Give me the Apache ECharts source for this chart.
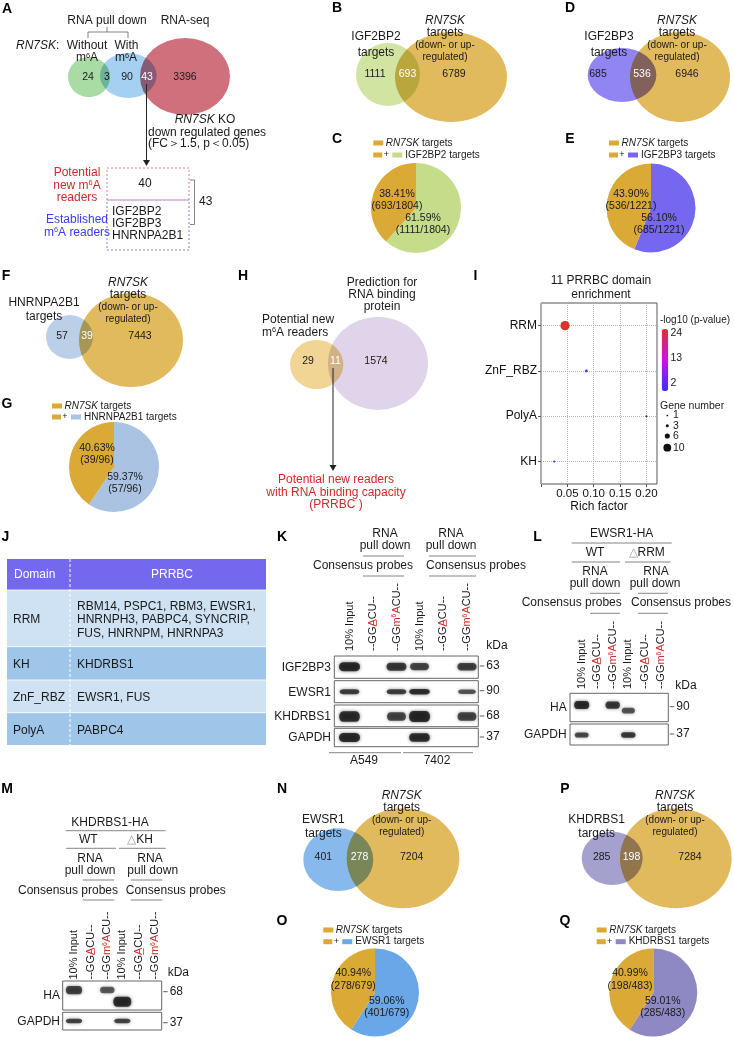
<!DOCTYPE html>
<html>
<head>
<meta charset="utf-8">
<title>RN7SK m6A readers</title>
<script src="https://cdn.jsdelivr.net/npm/echarts@6.0.0/dist/echarts.min.js"></script>
<style>
html,body{margin:0;padding:0;background:#fff;}
#chart{width:734px;height:1037px;}
</style>
</head>
<body>
<div id="chart"></div>
<script>
// ================= DATA =================
const vennA_counts = [24, 3, 90, 43, 3396];        // without-only, without&with, with-only, with&RNA-seq, RNA-seq only
const readersNew = 40;
const readersEstablished = ['IGF2BP2', 'IGF2BP3', 'HNRNPA2B1'];
const readersTotal = 43;

const vennB_counts = [1111, 693, 6789];
const vennD_counts = [685, 536, 6946];
const vennF_counts = [57, 39, 7443];
const vennH_counts = [29, 11, 1574];
const vennN_counts = [401, 278, 7204];
const vennP_counts = [285, 198, 7284];

const pieC_counts = [1111, 693];  const pieC_pct = ['61.59%', '38.41%'];
const pieE_counts = [685, 536];   const pieE_pct = ['56.10%', '43.90%'];
const pieG_counts = [57, 39];     const pieG_pct = ['59.37%', '40.63%'];
const pieO_counts = [401, 278];   const pieO_pct = ['59.06%', '40.94%'];
const pieQ_counts = [285, 198];   const pieQ_pct = ['59.01%', '40.99%'];

const I_domains = ['RRM', 'ZnF_RBZ', 'PolyA', 'KH'];
const I_richFactor = [0.0455, 0.086, 0.2, 0.025];
const I_negLog10P = [24, 2.3, 2.0, 2.0];
const I_geneNumber = [10, 2, 1, 1];
const I_yOrder = ['KH', 'PolyA', 'ZnF_RBZ', 'RRM'];
const I_colorTicks = [24, 13, 2];
const I_sizeTicks = [1, 3, 6, 10];

const J_domains = ['RRM', 'KH', 'ZnF_RBZ', 'PolyA'];
const J_prrbc = [
  ['RBM14, PSPC1, RBM3, EWSR1,', 'HNRNPH3, PABPC4, SYNCRIP,', 'FUS, HNRNPM, HNRNPA3'],
  ['KHDRBS1'],
  ['EWSR1, FUS'],
  ['PABPC4']
];

const probeLanes = ['10% Input', '--GG{ru|A\u0332}CU--', '--GG{r|m}{rs|6}{r|A}CU--'];
const K_lanes = probeLanes.concat(probeLanes);
const K_proteins = ['IGF2BP3', 'EWSR1', 'KHDRBS1', 'GAPDH'];
const K_kDa = ['63', '90', '68', '37'];
const K_bands = [
  [1.0, 0, 0.85, 0.7, 0, 0.75],
  [0.8, 0, 0.8, 0.95, 0, 0.55],
  [0.95, 0, 0.7, 1.0, 0, 0.7],
  [1.0, 0, 0, 0.95, 0, 0]
];
const K_cells = ['A549', '7402'];

const L_lanes = probeLanes.concat(probeLanes);
const L_proteins = ['HA', 'GAPDH'];
const L_kDa = ['90', '37'];
const L_bands = [
  [1.0, 0, 0.85, 0.55, 0, 0],
  [0.7, 0, 0, 0.85, 0, 0]
];

const M_lanes = probeLanes.concat(probeLanes);
const M_proteins = ['HA', 'GAPDH'];
const M_kDa = ['68', '37'];
const M_bands = [
  [0.75, 0, 0.5, 1.0, 0, 0],
  [0.75, 0, 0, 0.75, 0, 0]
];

// ================= STYLE / LAYOUT =================
const FF = "'Liberation Sans', Arial, Helvetica, sans-serif";
const ORANGE = '#dba936';
const RED_T = '#cf2a2a';
const BLUE_T = '#3b3bf0';
const INK = '#1a1a1a';
const BAND_SYMBOL = 'path://M4,0 H16 C21.3,0 21.3,10 16,10 H4 C-1.3,10 -1.3,0 4,0 Z';

const G = [];
function fnt(st, wt, sz) { return st + ' ' + wt + ' ' + sz + 'px ' + FF; }
function rich(size, color, wt) {
  const ss = Math.round(size * 0.62 * 10) / 10;
  return {
    i:  { font: fnt('italic', wt, size), fontStyle: 'italic', fontSize: size, fontFamily: FF, fill: color },
    s:  { font: fnt('normal', wt, ss), fontSize: ss, fontFamily: FF, fill: color, verticalAlign: 'top' },
    r:  { font: fnt('normal', wt, size), fontSize: size, fontFamily: FF, fill: RED_T },
    ru: { font: fnt('normal', wt, size), fontSize: size, fontFamily: FF, fill: RED_T },
    rs: { font: fnt('normal', wt, ss), fontSize: ss, fontFamily: FF, fill: RED_T, verticalAlign: 'top' },
    g:  { font: fnt('normal', wt, size), fontSize: size, fontFamily: FF, fill: '#a0a0a0' }
  };
}
function T(x, y, s, o) {
  o = o || {};
  const size = o.size || 12, color = o.color || INK, align = o.align || 'center';
  const wt = o.bold ? 'bold' : 'normal', st = o.italic ? 'italic' : 'normal';
  G.push({
    type: 'text', x: x, y: y, rotation: o.rot || 0, z: 100, silent: true,
    style: {
      text: String(s), fill: color, font: fnt(st, wt, size),
      fontSize: size, fontFamily: FF, fontWeight: wt, fontStyle: st,
      align: align, textAlign: align, verticalAlign: 'middle', textVerticalAlign: 'middle',
      rich: rich(size, color, wt)
    }
  });
}
function L(x1, y1, x2, y2, o) {
  o = o || {};
  G.push({ type: 'line', z: o.z || 100, silent: true, shape: { x1: x1, y1: y1, x2: x2, y2: y2 },
    style: { stroke: o.color || '#666', lineWidth: o.w || 0.8, lineDash: o.dash || null } });
}
function R(x, y, w, h, o) {
  o = o || {};
  G.push({ type: 'rect', z: o.z || 1, silent: true, shape: { x: x, y: y, width: w, height: h },
    style: { fill: o.fill || 'none', stroke: o.stroke || null, lineWidth: o.w || 0, lineDash: o.dash || null } });
}
function arrowDown(x, y1, y2) {
  L(x, y1, x, y2 - 5, { color: '#222', w: 1 });
  G.push({ type: 'polygon', z: 100, silent: true, shape: { points: [[x - 3.5, y2 - 6], [x + 3.5, y2 - 6], [x, y2]] }, style: { fill: '#222' } });
}

// Venn layout: [cx, cy, w, h, color, multiply]
const VENN = [
  { counts: vennA_counts, white: [3],
    circles: [[89, 77, 42, 40, '#93d38f', 0], [128.3, 75.5, 56.7, 45, '#8ec4ee', 1], [185, 76.5, 90, 77, '#c44c5c', 0]],
    labels: [[88, 77], [107, 77], [127, 77], [147, 77], [185, 77]] },
  { counts: vennB_counts, white: [1],
    circles: [[388, 74.5, 64, 63, '#c5dd8b', 0], [451, 77, 112, 90, ORANGE, 1]],
    labels: [[375, 74], [407.5, 74], [454, 74]] },
  { counts: vennD_counts, white: [1],
    circles: [[622, 75, 68.7, 54, '#7667f0', 0], [680, 77, 100, 90, ORANGE, 1]],
    labels: [[598, 74], [642, 74], [687, 74]] },
  { counts: vennF_counts, white: [1],
    circles: [[69.5, 337, 47, 44, '#aac3e3', 0], [131, 340, 104, 94, ORANGE, 1]],
    labels: [[62, 336], [87, 336], [140, 336]] },
  { counts: vennH_counts, white: [1],
    circles: [[316.7, 364.5, 53.3, 49, '#edca7b', 0], [378, 363.4, 100, 93, '#d7c9e4', 1]],
    labels: [[308, 361], [335.5, 361], [376, 361]] },
  { counts: vennN_counts, white: [1],
    circles: [[338.3, 859.7, 70, 62.7, '#6aa7e8', 0], [403, 858.3, 112.7, 100, ORANGE, 1]],
    labels: [[323.3, 857.3], [359.5, 857.3], [411.7, 857.3]] },
  { counts: vennP_counts, white: [1],
    circles: [[612.2, 858.3, 61, 53.3, '#8f89c3', 0], [675.8, 858.3, 111.7, 100, ORANGE, 1]],
    labels: [[601.7, 857.3], [631.5, 857.3], [690, 857.3]] }
];
const vennBase = [], vennMul = [];
VENN.forEach(v => {
  v.circles.forEach(c => (c[5] ? vennMul : vennBase).push({ value: [c[0], c[1]], symbolSize: [c[2], c[3]], itemStyle: { color: c[4] } }));
  v.counts.forEach((n, i) => T(v.labels[i][0], v.labels[i][1], n, { size: 10.5, color: v.white.indexOf(i) >= 0 ? '#fff' : INK }));
});

// Pies layout
const PIES = [
  { counts: pieC_counts, pct: pieC_pct, color: '#c5dd8b', c: [416, 208], r: 45, lab: [[423, 218], [397, 194]], leg: [373.3, 143, 155], name: 'IGF2BP2' },
  { counts: pieE_counts, pct: pieE_pct, color: '#7667f0', c: [651, 208], r: 44.5, lab: [[659, 218], [631, 194]], leg: [609, 143, 155], name: 'IGF2BP3' },
  { counts: pieG_counts, pct: pieG_pct, color: '#aac3e3', c: [114, 467], r: 45, lab: [[125, 477], [97, 448]], leg: [52, 406, 417], name: 'HNRNPA2B1' },
  { counts: pieO_counts, pct: pieO_pct, color: '#6aa7e8', c: [375, 992.5], r: 44, lab: [[386.7, 1000.7], [353.3, 973.3]], leg: [323.3, 930, 941.7], name: 'EWSR1' },
  { counts: pieQ_counts, pct: pieQ_pct, color: '#8f89c3', c: [653.3, 992.5], r: 44, lab: [[662.7, 1000.7], [630, 973.3]], leg: [596.7, 930, 941.7], name: 'KHDRBS1' }
];
const pieSeries = PIES.map(p => {
  const total = p.counts[0] + p.counts[1];
  p.counts.forEach((n, i) => {
    T(p.lab[i][0], p.lab[i][1], p.pct[i], { size: 10.5 });
    T(p.lab[i][0], p.lab[i][1] + 12.5, '(' + n + '/' + total + ')', { size: 10.5 });
  });
  const x = p.leg[0];
  R(x, p.leg[1] - 2.5, 10, 5, { fill: ORANGE, z: 100 });
  T(x + 12.5, p.leg[1], '{i|RN7SK} targets', { align: 'left', size: 10 });
  R(x, p.leg[2] - 2.5, 9, 5, { fill: ORANGE, z: 100 });
  T(x + 13, p.leg[2], '+', { size: 9 });
  R(x + 19, p.leg[2] - 2.5, 10, 5, { fill: p.color, z: 100 });
  T(x + 32, p.leg[2], p.name + ' targets', { align: 'left', size: 10 });
  return {
    type: 'pie', center: p.c, radius: p.r, startAngle: 90, clockwise: true, silent: true,
    label: { show: false }, labelLine: { show: false }, z: 2,
    itemStyle: { borderWidth: 0 },
    data: [{ value: p.counts[0], itemStyle: { color: p.color } }, { value: p.counts[1], itemStyle: { color: ORANGE } }]
  };
});

// ================= PANEL LETTERS =================
[['A', 7, 9], ['B', 337, 8], ['D', 570, 8], ['C', 337, 139], ['E', 570, 139], ['F', 6, 276], ['G', 7, 404],
 ['H', 243, 276], ['I', 475.5, 276], ['J', 5.5, 537], ['K', 282, 537], ['L', 537.5, 537], ['M', 7, 789],
 ['N', 282, 789], ['O', 282, 921.5], ['P', 565, 789], ['Q', 565, 921.5]]
  .forEach(a => T(a[1], a[2], a[0], { size: 14, bold: true, color: '#000' }));

// ================= PANEL A =================
T(107, 21, 'RNA pull down');
L(107, 27, 107, 32); L(88, 32, 128, 32); L(88, 32, 88, 38); L(128, 32, 128, 38);
T(185, 21, 'RNA-seq');
T(16, 46, '{i|RN7SK}:', { align: 'left' });
T(87, 46, 'Without'); T(87, 58, 'm{s|6}A');
T(126.5, 46, 'With'); T(126, 58, 'm{s|6}A');
T(205, 120, '{i|RN7SK} KO');
T(148, 133, 'down regulated genes', { align: 'left' });
T(148, 144, '(FC\uFF1E1.5, p\uFF1C0.05)', { align: 'left' });
arrowDown(146.5, 84, 166);
R(107, 168, 82, 32, { stroke: '#e88090', w: 1, dash: [2, 2], z: 50 });
R(107, 200, 82, 50, { stroke: '#8080f0', w: 1, dash: [2, 2], z: 50 });
T(145, 183.5, readersNew);
readersEstablished.forEach((s, i) => T(112, 211.5 + i * 12, s, { align: 'left' }));
L(190, 180, 194.5, 180); L(194.5, 180, 194.5, 224.5); L(190, 224.5, 194.5, 224.5);
T(199, 202, readersTotal, { align: 'left' });
T(77, 173, 'Potential', { color: RED_T }); T(77, 185.5, 'new m{s|6}A', { color: RED_T }); T(77, 198, 'readers', { color: RED_T });
T(77, 220, 'Established', { color: BLUE_T }); T(77, 232.5, 'm{s|6}A readers', { color: BLUE_T });

// ================= Venn labels B, D, F, H, N, P =================
function rn7skLabel(x, y0) {
  T(x, y0, '{i|RN7SK}'); T(x, y0 + 12, 'targets');
  T(x, y0 + 24.5, '(down- or up-', { size: 10 }); T(x, y0 + 36.5, 'regulated)', { size: 10 });
}
T(376, 37, 'IGF2BP2'); T(376, 53, 'targets'); rn7skLabel(445, 21);
T(609, 37, 'IGF2BP3'); T(609, 53, 'targets'); rn7skLabel(677, 21);
T(44, 303, 'HNRNPA2B1'); T(44, 317, 'targets'); rn7skLabel(128, 283);
T(323.3, 819.3, 'EWSR1'); T(323.3, 833.3, 'targets'); rn7skLabel(401.7, 795.5);
T(596.7, 819.3, 'KHDRBS1'); T(596.7, 833.3, 'targets'); rn7skLabel(675, 795.5);

// H
T(262, 320, 'Potential new', { align: 'left' }); T(262, 332.5, 'm{s|6}A readers', { align: 'left' });
T(382, 283, 'Prediction for'); T(382, 295, 'RNA binding'); T(382, 307, 'protein');
arrowDown(333, 368, 471);
T(336, 480, 'Potential new readers', { color: RED_T });
T(336, 492.5, 'with RNA binding capacity', { color: RED_T });
T(336, 505, '(PRRBC )', { color: RED_T });

// ================= PANEL I legend texts =================
T(601, 281, '11 PRRBC domain'); T(601, 295, 'enrichment');
T(660, 320, '-log10 (p-value)', { align: 'left', size: 10 });
I_colorTicks.forEach(v => T(670.5, 332.7 + (24 - v) / 22 * 50.6, v, { align: 'left', size: 10.5 }));
T(660, 406, 'Gene number', { align: 'left', size: 10.5 });
const sz = n => 1.2 + 0.8 * n;
I_sizeTicks.forEach((n, i) => {
  const y = [415.5, 425.7, 436, 447.7][i];
  G.push({ type: 'circle', z: 100, silent: true, shape: { cx: 667.3, cy: y, r: sz(n) / 2 * 0.85 }, style: { fill: '#111' } });
  T(673, y, n, { align: 'left', size: 10.5 });
});

// ================= PANEL J table =================
const J_rows = [[590, 646.7], [646.7, 680], [680, 712.7], [712.7, 745]];
R(7, 559, 259, 31, { fill: '#7468ee' });
T(14, 574.5, 'Domain', { align: 'left', color: '#fff' });
T(172, 574.5, 'PRRBC', { color: '#fff' });
J_domains.forEach((d, i) => {
  const y0 = J_rows[i][0], y1 = J_rows[i][1], yc = (y0 + y1) / 2 + 1.5;
  R(7, y0, 259, y1 - y0, { fill: i % 2 ? '#9fc5e8' : '#cfe2f3' });
  L(7, y0, 266, y0, { color: '#ffffff', w: 0.8, z: 5 });
  T(13, yc, d, { align: 'left' });
  const lines = J_prrbc[i];
  lines.forEach((s, k) => T(77, yc + (k - (lines.length - 1) / 2) * 13.5, s, { align: 'left' }));
});
L(70, 559, 70, 745, { color: '#ffffff', w: 1, dash: [3, 2], z: 5 });

// ================= BLOTS =================
const bandData = [];
function blot(lanes, proteins, kda, bands, lay) {
  lanes.forEach((s, i) => T(lay.laneX[i], lay.laneBottom, s, { rot: Math.PI / 2, align: 'left', size: lay.laneFont }));
  T(lay.kdaHdr[0], lay.kdaHdr[1], 'kDa');
  const bx1 = lay.boxX + lay.boxW;
  proteins.forEach((p, r) => {
    const y0 = lay.rows[r][0], y1 = lay.rows[r][1];
    R(lay.boxX, y0, lay.boxW, y1 - y0, { fill: '#fff', stroke: '#555', w: 0.9, z: 1 });
    T(lay.labelX, (y0 + y1) / 2 + 0.5, p, { align: 'right' });
    L(bx1 + 1.5, lay.kdaY[r], bx1 + 6, lay.kdaY[r], { color: '#333' });
    T(bx1 + 8, lay.kdaY[r], kda[r], { align: 'left' });
    bands[r].forEach((s, i) => {
      if (s <= 0) return;
      const w = lay.bandW[0] + (lay.bandW[1] - lay.bandW[0]) * s;
      const h = lay.bandH[r][0] + (lay.bandH[r][1] - lay.bandH[r][0]) * s;
      const yb = Array.isArray(lay.bandY[r]) ? lay.bandY[r][i] : lay.bandY[r];
      const a = (0.5 + 0.45 * s).toFixed(2);
      bandData.push({ value: [lay.laneX[i], yb], symbolSize: [w, h],
        itemStyle: { color: 'rgba(10,10,10,' + a + ')', shadowBlur: 3.5, shadowColor: 'rgba(0,0,0,' + (a * 0.8).toFixed(2) + ')' } });
    });
  });
}
// K
T(385, 534, 'RNA'); T(385, 546, 'pull down');
T(451, 534, 'RNA'); T(451, 546, 'pull down');
L(363, 556, 404, 556); L(429, 556, 476, 556);
T(363, 566, 'Consensus probes'); T(476, 566, 'Consensus probes');
L(363, 576, 404, 576); L(429, 576, 476, 576);
blot(K_lanes, K_proteins, K_kDa, K_bands, {
  laneX: [349.5, 372.5, 396.5, 419.5, 443, 467], laneBottom: 651, laneFont: 11,
  kdaHdr: [497, 646], boxX: 334.3, boxW: 144, labelX: 331,
  rows: [[656, 678.3], [680.7, 702.7], [705, 726.7], [728.3, 746.7]],
  kdaY: [666, 690.7, 716, 737],
  bandY: [666.7, 691.7, 716.5, 737.5],
  bandW: [14, 21],
  bandH: [[3, 9], [3, 5.5], [3, 11], [3, 9]]
});
L(329, 752.7, 401, 752.7); L(403, 752.7, 473, 752.7);
T(364, 760.5, K_cells[0]); T(437, 760.5, K_cells[1]);

// L
T(621.7, 534, 'EWSR1-HA'); L(571.7, 543, 671.7, 543);
T(595, 553, 'WT'); T(646.7, 553, '{g|\u25B3}RRM');
L(571.7, 562, 620, 562); L(625, 562, 670.7, 562);
T(595, 571.7, 'RNA'); T(595, 583.3, 'pull down');
T(656, 571.7, 'RNA'); T(655, 583.3, 'pull down');
L(590, 593.3, 620, 593.3); L(638, 593.3, 668, 593.3);
T(571.7, 602.3, 'Consensus probes'); T(681, 602.3, 'Consensus probes');
L(590, 613.3, 620, 613.3); L(638, 613.3, 668, 613.3);
blot(L_lanes, L_proteins, L_kDa, L_bands, {
  laneX: [581.7, 596.6, 612.7, 628.3, 645, 660.7], laneBottom: 689, laneFont: 11,
  kdaHdr: [686, 685.7], boxX: 570, boxW: 98.3, labelX: 566.7,
  rows: [[693.3, 721.7], [724, 745]],
  kdaY: [706.7, 734],
  bandY: [[705, 705, 705, 710.5, 710.5, 710.5], 735],
  bandW: [11, 15],
  bandH: [[3, 8], [3, 6]]
});

// M
T(110, 822.7, 'KHDRBS1-HA'); L(65.7, 830.7, 165.7, 830.7);
T(88.3, 840, 'WT'); T(140, 840, '{g|\u25B3}KH');
L(66, 848.3, 116, 848.3); L(119, 848.3, 165.7, 848.3);
T(90, 859, 'RNA'); T(90, 870.7, 'pull down');
T(150, 859, 'RNA'); T(152.7, 870.7, 'pull down');
L(82.7, 880, 114.3, 880); L(130.7, 880, 162.3, 880);
T(68, 890.7, 'Consensus probes'); T(175.8, 890.7, 'Consensus probes');
L(82.7, 900, 114.3, 900); L(130.7, 900, 162.3, 900);
blot(M_lanes, M_proteins, M_kDa, M_bands, {
  laneX: [74, 90.7, 107.3, 122.3, 139.3, 155], laneBottom: 979.5, laneFont: 11,
  kdaHdr: [178.3, 972.7], boxX: 62.7, boxW: 99, labelX: 60,
  rows: [[981, 1010], [1012.3, 1030]],
  kdaY: [991.7, 1022.7],
  bandY: [[990, 990, 990, 1001.7, 1001.7, 1001.7], 1021],
  bandW: [11, 18],
  bandH: [[3, 10], [3, 5]]
});

// ================= OPTION =================
const I_data = I_domains.map((d, i) => [I_richFactor[i], d, I_negLog10P[i], I_geneNumber[i]]);

const option = {
  backgroundColor: '#ffffff',
  animation: false,
  textStyle: { fontFamily: FF },
  grid: [
    { left: 0, top: 0, width: 734, height: 1037, show: false, outerBoundsMode: 'none', containLabel: false },
    { left: 541, top: 303, width: 116, height: 181, show: true, borderColor: '#555', borderWidth: 1,
      backgroundColor: '#fff', outerBoundsMode: 'none', containLabel: false }
  ],
  xAxis: [
    { gridIndex: 0, type: 'value', min: 0, max: 734, show: false },
    { gridIndex: 1, type: 'value', min: 0, max: 0.22, interval: 0.05,
      axisLine: { show: false },
      axisTick: { show: true, length: 3, lineStyle: { color: '#555' } },
      axisLabel: { fontSize: 11.5, color: '#111', fontFamily: FF, margin: 4, hideOverlap: false,
        showMinLabel: true, showMaxLabel: false,
        formatter: v => (v > 0.001 && v < 0.21) ? v.toFixed(2) : '' },
      splitLine: { show: true, lineStyle: { type: 'dotted', color: '#b5b5b5', width: 1 } },
      name: 'Rich factor', nameLocation: 'middle', nameGap: 17,
      nameTextStyle: { fontSize: 12, color: '#111', fontFamily: FF } }
  ],
  yAxis: [
    { gridIndex: 0, type: 'value', min: 0, max: 1037, inverse: true, show: false },
    { gridIndex: 1, type: 'category', data: I_yOrder,
      axisLine: { show: false },
      axisTick: { show: true, length: 3, alignWithLabel: true, lineStyle: { color: '#555' } },
      axisLabel: { fontSize: 12, color: '#111', fontFamily: FF, margin: 4 },
      splitLine: { show: false } }
  ],
  visualMap: [{
    type: 'continuous', seriesIndex: 3, dimension: 2, min: 2, max: 24,
    left: 661.7, top: 329, itemWidth: 6.5, itemHeight: 62, padding: 0,
    calculable: false, show: true, text: null,
    inRange: { color: ['#3a2dff', '#d010e8', '#d8342c'] }
  }],
  graphic: { elements: G },
  series: [
    { type: 'scatter', xAxisIndex: 0, yAxisIndex: 0, symbol: 'circle', silent: true, z: 2, data: vennBase },
    { type: 'scatter', xAxisIndex: 0, yAxisIndex: 0, symbol: 'circle', silent: true, z: 3, blendMode: 'multiply', data: vennMul },
    { type: 'scatter', xAxisIndex: 0, yAxisIndex: 0, symbol: BAND_SYMBOL, symbolKeepAspect: false, silent: true, z: 4, data: bandData },
    { type: 'scatter', xAxisIndex: 1, yAxisIndex: 1, silent: true, z: 5,
      symbolSize: d => sz(d[3]),
      itemStyle: { opacity: 1 },
      data: I_data,
      markLine: { silent: true, symbol: 'none', label: { show: false },
        lineStyle: { type: 'dotted', color: '#b5b5b5', width: 1 },
        data: I_yOrder.map(c => ({ yAxis: c })) } }
  ].concat(pieSeries)
};

const chart = echarts.init(document.getElementById('chart'), null, { renderer: 'canvas', width: 734, height: 1037 });
chart.setOption(option);
</script>
</body>
</html>
